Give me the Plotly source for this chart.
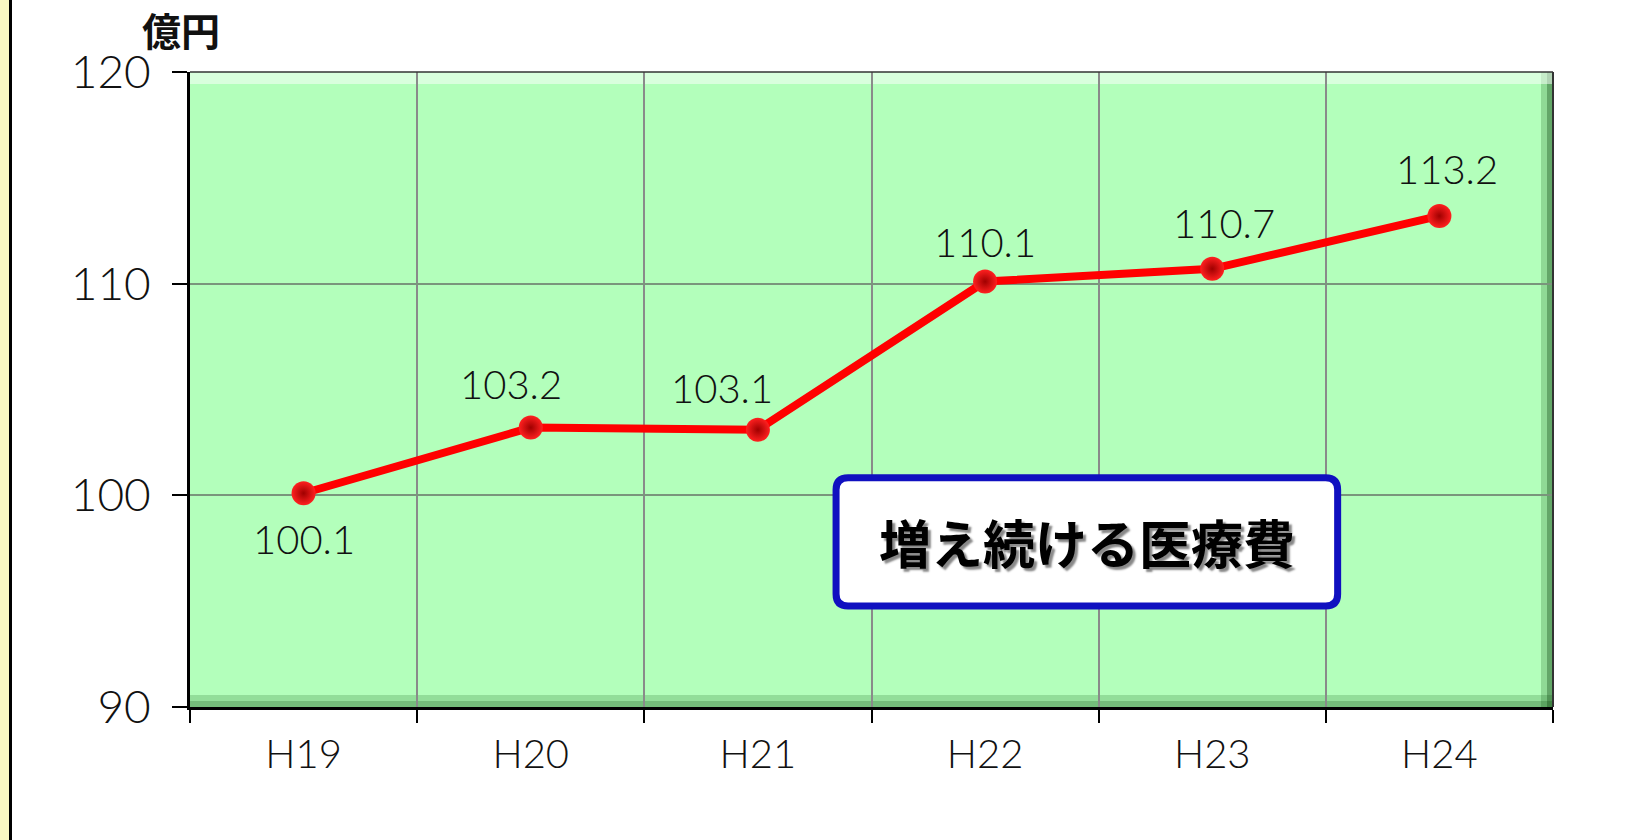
import plotly.graph_objects as go

categories = ["H19", "H20", "H21", "H22", "H23", "H24"]
values = [100.1, 103.2, 103.1, 110.1, 110.7, 113.2]
label_texts = ["100.1", "103.2", "103.1", "110.1", "110.7", "113.2"]
y_ticks = [90, 100, 110, 120]
unit_label = "億円"
box_title = "増え続ける医療費"

# label placement styling (pixel offsets relative to the points)
label_xshift = [0, -20, -36, 0, 12, 8]
label_yshift = [-46, 44, 42, 40, 46, 47]

FONT = "Lato, 'Noto Sans', sans-serif"

fig = go.Figure()
fig.add_trace(go.Scatter(
    x=categories, y=values, mode="lines+markers",
    line=dict(color="#FF0000", width=8),
    marker=dict(size=24, color="#FF2020",
                gradient=dict(type="radial", color="#A00000"),
                line=dict(width=0)),
    hoverinfo="skip", showlegend=False,
))

for c, v, t, dx, dy in zip(categories, values, label_texts, label_xshift, label_yshift):
    fig.add_annotation(x=c, y=v, text=t, showarrow=False, xshift=dx, yshift=dy,
                       font=dict(family=FONT, size=40, color="#111111", weight=300))

fig.add_annotation(xref="paper", yref="paper", x=-0.037, y=1.02, xanchor="left", yanchor="bottom",
                   text=unit_label, showarrow=False,
                   font=dict(family="Noto Sans CJK JP", size=39, color="#111111", weight="bold"))

# rounded title box
x0, x1, y0, y1 = 0.474, 0.842, 0.159, 0.361
rx, ry = 12 / 1363, 12 / 635
path = (f"M {x0+rx},{y0} L {x1-rx},{y0} Q {x1},{y0} {x1},{y0+ry} "
        f"L {x1},{y1-ry} Q {x1},{y1} {x1-rx},{y1} L {x0+rx},{y1} "
        f"Q {x0},{y1} {x0},{y1-ry} L {x0},{y0+ry} Q {x0},{y0} {x0+rx},{y0} Z")
fig.add_shape(type="path", path=path, xref="paper", yref="paper",
              fillcolor="white", line=dict(color="#1010C0", width=7), layer="above")
fig.add_annotation(xref="paper", yref="paper", x=(x0 + x1) / 2, y=(y0 + y1) / 2,
                   xanchor="center", yanchor="middle",
                   text=box_title, showarrow=False,
                   font=dict(family="Noto Sans CJK JP", size=52, color="#000000", weight="bold",
                             shadow="3px 3px 2px #888888"))

shapes_bevel = [
    # bottom darker band (two steps for a soft gradient)
    dict(type="rect", xref="x domain", yref="y domain", x0=0, x1=1, ysizemode="pixel", yanchor=0,
         y0=0, y1=12, line=dict(width=0), fillcolor="rgba(0,70,0,0.18)", layer="below"),
    dict(type="rect", xref="x domain", yref="y domain", x0=0, x1=1, ysizemode="pixel", yanchor=0,
         y0=0, y1=6, line=dict(width=0), fillcolor="rgba(0,60,0,0.2)", layer="below"),
    # right darker band
    dict(type="rect", xref="x domain", yref="y domain", y0=0, y1=1, xsizemode="pixel", xanchor=1,
         x0=-12, x1=0, line=dict(width=0), fillcolor="rgba(0,70,0,0.2)", layer="below"),
    dict(type="rect", xref="x domain", yref="y domain", y0=0, y1=1, xsizemode="pixel", xanchor=1,
         x0=-6, x1=0, line=dict(width=0), fillcolor="rgba(0,50,0,0.3)", layer="below"),
    # top lighter band
    dict(type="rect", xref="x domain", yref="y domain", x0=0, x1=1, ysizemode="pixel", yanchor=1,
         y0=-12, y1=0, line=dict(width=0), fillcolor="rgba(255,255,255,0.5)", layer="below"),
    dict(type="line", xref="x domain", yref="y domain", x0=1, x1=1, y0=0, y1=1,
         line=dict(color="#333333", width=2), layer="above"),
    dict(type="line", xref="x domain", yref="y domain", x0=0, x1=1, y0=1, y1=1,
         line=dict(color="#333333", width=1.5), layer="above"),
    # left decorative strip
    dict(type="rect", xref="paper", yref="paper", xsizemode="pixel", xanchor=0, x0=-190, x1=-181,
         y0=-0.3, y1=1.2, line=dict(width=0), fillcolor="#FAF8C2", layer="below"),
    dict(type="rect", xref="paper", yref="paper", xsizemode="pixel", xanchor=0, x0=-181, x1=-178,
         y0=-0.3, y1=1.2, line=dict(width=0), fillcolor="#000000", layer="below"),
]
for s in shapes_bevel:
    fig.add_shape(**s)

fig.update_xaxes(
    type="category", tickson="boundaries", showgrid=True, gridcolor="#8A8A8A", gridwidth=2,
    ticks="outside", ticklen=13, tickwidth=1.5, tickcolor="#000000",
    showline=True, linecolor="#000000", linewidth=3,
    tickfont=dict(family=FONT, size=40, color="#111111", weight=300), ticklabelstandoff=10,
    range=[-0.5, 5.5], zeroline=False,
)
fig.update_yaxes(
    range=[90, 120], tickvals=y_ticks, showgrid=True, gridcolor="#7A957C", gridwidth=1.5,
    ticks="outside", ticklen=15, tickwidth=1.5, tickcolor="#000000",
    showline=True, linecolor="#000000", linewidth=3, zeroline=False,
    tickfont=dict(family=FONT, size=46, color="#111111", weight=300), ticklabelstandoff=12,
)
fig.update_layout(
    width=1650, height=840,
    margin=dict(l=190, r=97, t=72, b=133),
    plot_bgcolor="#B3FFBB", paper_bgcolor="#FFFFFF",
    showlegend=False,
)
fig.write_html("out.html", config={"displayModeBar": False},
               post_script="document.body.style.margin='0';")
